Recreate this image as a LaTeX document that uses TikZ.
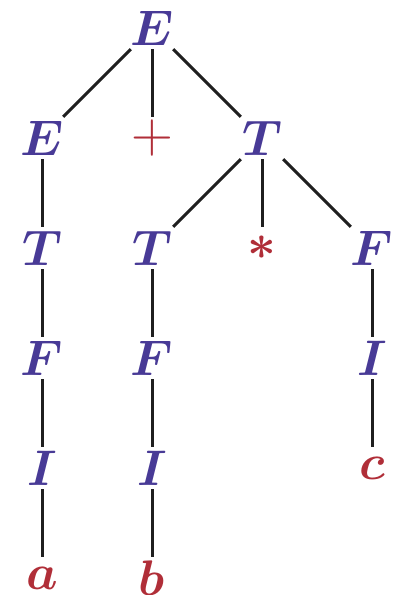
\RequirePackage{fix-cm}
\documentclass[tikz,border=0pt]{standalone}
\usepackage{amsmath}
\usepackage{bm}
\definecolor{noterm}{RGB}{72,58,150}
\definecolor{term}{RGB}{176,46,56}

\begin{document}
\begin{tikzpicture}[x=1pt, y=-1pt,
    nt/.style={minimum size=42pt, inner sep=0pt, text=noterm, font=\fontsize{50}{60}\selectfont},
    tm/.style={nt, text=term},
    rama/.style={line width=3pt, black!88}]
    \useasboundingbox (0,0) rectangle (405,595);

    % Raiz y primer nivel
    \node[nt] (E0) at (152,28) {$\bm{E}$};
    \node[nt] (E1) at (42,138) {$\bm{E}$};
    \node[tm, font=\fontsize{58}{64}\selectfont] (mas) at (152,138) {$+$};
    \node[nt] (T1) at (262,138) {$\bm{T}$};

    % Segundo nivel
    \node[nt] (T2) at (42,248) {$\bm{T}$};
    \node[nt] (T3) at (152,248) {$\bm{T}$};
    \node[tm] (por) at (262,248) {$\bm{*}$};
    \node[nt] (F1) at (372,248) {$\bm{F}$};

    % Tercer nivel
    \node[nt] (F2) at (42,358) {$\bm{F}$};
    \node[nt] (F3) at (152,358) {$\bm{F}$};
    \node[nt] (I1) at (372,358) {$\bm{I}$};

    % Identificadores y hojas
    \node[nt] (I2) at (42,468) {$\bm{I}$};
    \node[nt] (I3) at (152,468) {$\bm{I}$};
    \node[tm] (c) at (372,468) {$\bm{c}$};
    \node[tm] (a) at (42,578) {$\bm{a}$};
    \node[tm] (b) at (152,578) {$\bm{b}$};

    % Ramas del arbol
    \draw[rama] (E0) -- (E1);
    \draw[rama] (E0) -- (mas);
    \draw[rama] (E0) -- (T1);
    \draw[rama] (T1) -- (T3);
    \draw[rama] (T1) -- (por);
    \draw[rama] (T1) -- (F1);
    \draw[rama] (E1) -- (T2) -- (F2) -- (I2) -- (a);
    \draw[rama] (T3) -- (F3) -- (I3) -- (b);
    \draw[rama] (F1) -- (I1) -- (c);

\end{tikzpicture}
\end{document}
